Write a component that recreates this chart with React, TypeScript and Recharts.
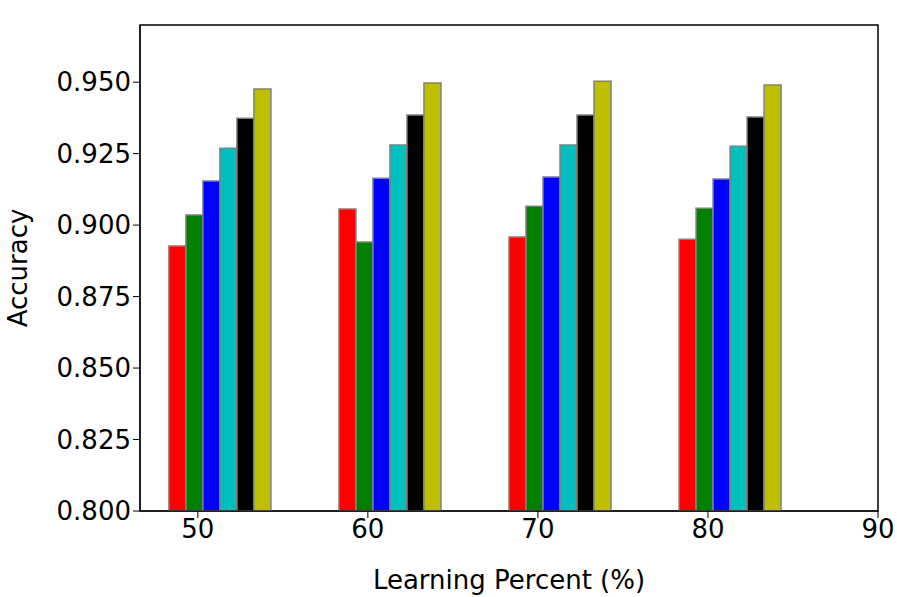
import React from "react";
import { ComposedChart, Bar, XAxis, YAxis, Cell, Label, ReferenceArea } from "recharts";

const groups = [50, 60, 70, 80];
const offsets = [-1.2, -0.2, 0.8, 1.8, 2.8, 3.8];
const colors = ["#ff0000", "#008000", "#0000ff", "#00bfbf", "#000000", "#bfbf00"];
const vals50 = [0.8927, 0.9035, 0.9154, 0.9269, 0.9374, 0.9476];
const vals60 = [0.9056, 0.8941, 0.9164, 0.928, 0.9385, 0.9497];
const vals70 = [0.8958, 0.9066, 0.9168, 0.928, 0.9385, 0.9503];
const vals80 = [0.8951, 0.9059, 0.9161, 0.9276, 0.9378, 0.949];
const allVals = [vals50, vals60, vals70, vals80];
const xTicks = [50, 60, 70, 80, 90];
const yTicks = [0.8, 0.825, 0.85, 0.875, 0.9, 0.925, 0.95];

const data = groups.flatMap((g, gi) =>
  offsets.map((o, i) => ({ x: g + o, v: allVals[gi][i], c: colors[i] }))
);

const font = { fontFamily: "DejaVu Sans", fontSize: 26, fill: "#000" };

export default function App() {
  return (
    <div style={{ position: "absolute", left: 0, top: 0 }}>
      <ComposedChart width={897} height={597} data={data}
        margin={{ top: 25, right: 19, left: 0, bottom: 0 }}>
        <XAxis dataKey="x" type="number" domain={[46.6, 90]} ticks={xTicks}
          allowDataOverflow height={86} tick={font} tickSize={7}
          stroke="#000" tickLine={{ stroke: "#000" }}>
          <Label value="Learning Percent (%)" position="insideBottom" offset={8} style={font} />
        </XAxis>
        <YAxis type="number" domain={[0.8, 0.97]} ticks={yTicks} allowDataOverflow
          width={140} tick={font} tickSize={7} stroke="#000"
          tickFormatter={(v: number) => v.toFixed(3)}>
          <Label value="Accuracy" angle={-90} position="insideLeft" offset={18}
            style={{ ...font, textAnchor: "middle" }} />
        </YAxis>
        <ReferenceArea x1={46.6} x2={90} y1={0.8} y2={0.97} fill="none"
          stroke="#000" strokeWidth={1.5} ifOverflow="visible" />
        <Bar dataKey="v" barSize={17} stroke="#808080" strokeWidth={1.5} isAnimationActive={false}>
          {data.map((d, i) => (
            <Cell key={i} fill={d.c} />
          ))}
        </Bar>
      </ComposedChart>
    </div>
  );
}
